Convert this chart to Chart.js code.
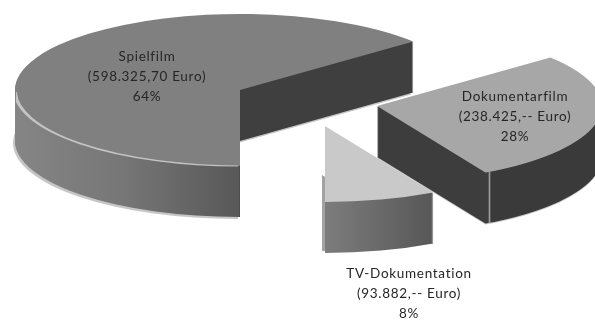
<!DOCTYPE html>
<html lang="de">
<head>
<meta charset="utf-8">
<title>Förderung nach Sparte</title>
<script src="https://cdn.jsdelivr.net/npm/chart.js@4"></script>
<style>
  html, body { margin: 0; padding: 0; background: #fff; }
  #wrap { width: 595px; height: 320px; position: relative; overflow: hidden; }
</style>
</head>
<body>
<div id="wrap"><canvas id="pie"></canvas></div>
<script>
// ── data ─────────────────────────────────────────────────
const categories = ['Spielfilm', 'Dokumentarfilm', 'TV-Dokumentation'];
const shares = [64, 28, 8];
const euroTexts = ['598.325,70', '238.425,--', '93.882,--'];

// ── look ─────────────────────────────────────────────────
const TOP_COLORS = ['#808080', '#a7a7a7', '#c9c9c9'];
const FLAT = { rx: 225, ry: 76, depth: 51 };
const PIE_CENTER = { x: 240, y: 90 };
const EXPLODE = [[0, 0], [137, 16], [85, 36]];
const LABEL_POS = [[147, 57], [515, 97], [409, 274]];
const LINE_H = 20;
// pale copy peeking out behind each wall: [dx, dy, colour]
const GHOST = [[-2, 53, '#c6c6c6'], [0, 52, '#c6c6c6'], [-3, 49, '#a2a2a2']];

// wall colours change along x, so the stops also separate the cut
// face of a slice from its rounded face
const WALL_STOPS = [
  [[15, '#858585'], [120, '#777777'], [239, '#585858'], [240, '#3f3f3f'], [595, '#3f3f3f']],
  [[377, '#3d3d3d'], [488, '#3d3d3d'], [489.5, '#9a9a9a'], [491, '#3a3a3a'], [595, '#3a3a3a']],
  [[325, '#7c7c7c'], [437, '#565656']],
];

// ── plugin: lies the arcs flat and stacks them into a 3D disc ──
const flatDisc = {
  id: 'flatDisc',
  beforeDatasetDraw(chart) {
    const { ctx } = chart;
    const arcs = chart.getDatasetMeta(0).data;

    const place = (arc, i, dx, dy) => {
      ctx.translate(PIE_CENTER.x + EXPLODE[i][0] + dx, PIE_CENTER.y + EXPLODE[i][1] + dy);
      ctx.scale(FLAT.rx / arc.outerRadius, FLAT.ry / arc.outerRadius);
      ctx.translate(-arc.x, -arc.y);
    };
    const drawAs = (arc, opts) => {
      const saved = arc.options;
      arc.options = Object.assign({}, saved, opts);
      arc.draw(ctx);
      arc.options = saved;
    };
    // gradient stops are page x, the arc is drawn in its own unscaled x
    const wallFill = (arc, i) => {
      const toLocal = x => arc.x + (x - PIE_CENTER.x - EXPLODE[i][0]) * arc.outerRadius / FLAT.rx;
      const g = ctx.createLinearGradient(toLocal(0), 0, toLocal(595), 0);
      WALL_STOPS[i].forEach(([x, c]) => g.addColorStop(x / 595, c));
      return g;
    };

    arcs.forEach((arc, i) => {
      ctx.save();
      place(arc, i, GHOST[i][0], GHOST[i][1]);
      drawAs(arc, { backgroundColor: GHOST[i][2], borderWidth: 0 });
      ctx.restore();

      const wall = wallFill(arc, i);
      for (let d = FLAT.depth; d > 0; d--) {
        ctx.save();
        place(arc, i, 0, d);
        drawAs(arc, { backgroundColor: wall, borderWidth: 0 });
        ctx.restore();
      }

      ctx.save();
      place(arc, i, 0, 0);
      drawAs(arc, { backgroundColor: TOP_COLORS[i], borderWidth: 0 });
      ctx.restore();

      // pale rim where the big slice's top meets its wall
      if (i === 0) {
        ctx.save();
        ctx.beginPath();
        ctx.rect(16, 92, 222, 80);
        ctx.clip();
        place(arc, i, 0, 0);
        drawAs(arc, { backgroundColor: 'transparent', borderColor: '#c4c4c4', borderWidth: 2.5, borderAlign: 'center' });
        ctx.restore();
      }
    });
    return false;
  },
  afterDatasetsDraw(chart) {
    const { ctx } = chart;
    ctx.save();
    ctx.font = '400 13.5px Lato, "Open Sans", sans-serif';
    ctx.letterSpacing = '0.7px';
    ctx.fillStyle = '#262626';
    ctx.textAlign = 'center';
    ctx.textBaseline = 'middle';
    categories.forEach((name, i) => {
      const [x, y] = LABEL_POS[i];
      ctx.fillText(name, x, y);
      ctx.fillText(`(${euroTexts[i]} Euro)`, x, y + LINE_H);
      ctx.fillText(`${shares[i]}%`, x, y + LINE_H * 2);
    });
    ctx.restore();
  },
};

new Chart(document.getElementById('pie'), {
  type: 'pie',
  data: {
    labels: categories,
    datasets: [{ data: shares, backgroundColor: TOP_COLORS, borderWidth: 0 }],
  },
  options: {
    responsive: true,
    maintainAspectRatio: false,
    animation: false,
    rotation: 180,
    plugins: { legend: { display: false }, tooltip: { enabled: false } },
  },
  plugins: [flatDisc],
});
</script>
</body>
</html>
